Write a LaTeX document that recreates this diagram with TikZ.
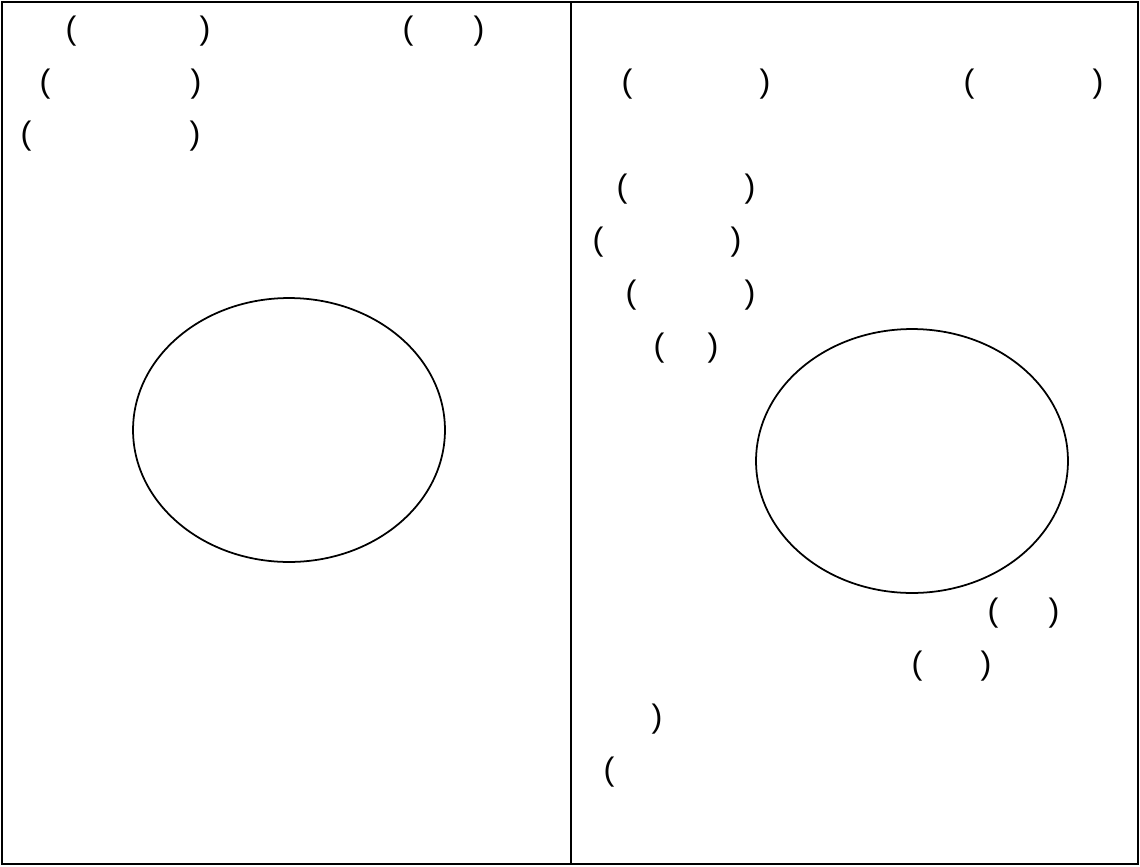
\documentclass[tikz,border=0pt]{standalone}
\usepackage{fontspec}
\setmainfont{Liberation Sans}
\usepackage{tikz}
\usetikzlibrary{shapes.geometric}

\newdimen\pxu
\pxu=0.02cm
% paren pair, #1 = distance between the two glyph centres in px
\newcommand{\prpair}[1]{\makebox[\dimexpr #1\pxu+0.333em\relax][s]{(\hfill)}}

\begin{document}
\begin{tikzpicture}[
  x=0.02cm, y=-0.02cm,
  panel/.style = {draw=black, line width=1.1pt},
  blob/.style  = {draw=black, ellipse, line width=1.0pt,
                  minimum width=6.24cm, minimum height=5.28cm, inner sep=0pt},
  lbl/.style   = {font=\fontsize{18.5}{22}\selectfont, inner sep=0pt},
]
\useasboundingbox (0,0) rectangle (1140,866);

%% frame
\draw[panel] (2,2) rectangle (1138,864);
\draw[panel] (571,2) -- (571,864);

%% left panel
\node[lbl] (la) at (138,31)  {\prpair{134}};
\node[lbl] (lb) at (443.5,31) {\prpair{71}};
\node[lbl] (lc) at (120.5,84) {\prpair{151}};
\node[lbl] (ld) at (110.5,136) {\prpair{169}};
\node[blob] (lell) at (289,430) {};

%% right panel
\node[lbl] (ra) at (696,84)   {\prpair{138}};
\node[lbl] (rb) at (1033.5,84) {\prpair{129}};
\node[lbl] (rc) at (686,189)  {\prpair{128}};
\node[lbl] (rd) at (667,242)  {\prpair{138}};
\node[lbl] (re) at (690.5,295) {\prpair{119}};
\node[lbl] (rf) at (686,348)  {\prpair{54}};
\node[blob] (rell) at (912,461) {};
\node[lbl] (rg) at (1023.5,613) {\prpair{61}};
\node[lbl] (rh) at (951.5,666) {\prpair{69}};
\node[lbl] (ri) at (657,719) {)};
\node[lbl] (rj) at (609,772) {(};

\end{tikzpicture}
\end{document}
